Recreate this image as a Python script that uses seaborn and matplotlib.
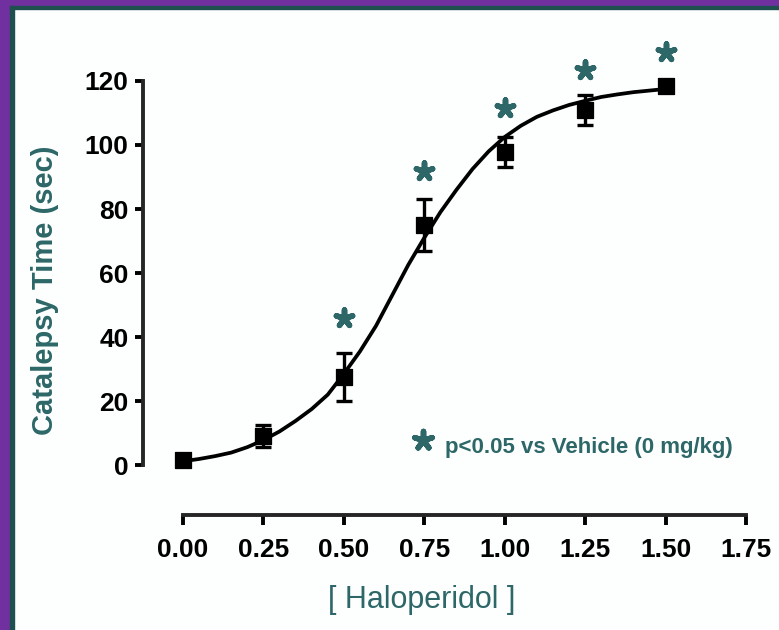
import matplotlib
matplotlib.use("Agg")
import matplotlib.pyplot as plt
from matplotlib.patches import Rectangle
import seaborn as sns
import pandas as pd

# dose-response data
dose = [0.00, 0.25, 0.50, 0.75, 1.00, 1.25, 1.50]
catalepsy = [1.5, 9.0, 27.5, 75.0, 97.8, 111.0, 118.5]
sem = [1.0, 3.5, 7.4, 8.0, 4.8, 4.6, 1.5]

# fitted sigmoid curve, every 0.05
curve_x = [0.00, 0.05, 0.10, 0.15, 0.20, 0.25, 0.30, 0.35, 0.40, 0.45,
           0.50, 0.55, 0.60, 0.65, 0.70, 0.75, 0.80, 0.85, 0.90, 0.95,
           1.00, 1.05, 1.10, 1.15, 1.20, 1.25, 1.30, 1.35, 1.40, 1.45, 1.50]
curve_y = [1.2, 1.9, 2.8, 3.9, 5.6, 7.8, 10.5, 13.8, 17.5, 22.0,
           28.5, 35.5, 43.5, 53.0, 62.5, 71.0, 79.0, 86.0, 92.5, 98.0,
           102.5, 106.0, 108.8, 110.8, 112.5, 113.8, 115.0, 115.8, 116.5, 117.0, 117.5]

# significance stars (p<0.05 vs vehicle)
star_x = [0.50, 0.75, 1.00, 1.25, 1.50]
star_y = [46.0, 92.0, 111.5, 123.5, 129.0]

x_ticks = [0.00, 0.25, 0.50, 0.75, 1.00, 1.25, 1.50, 1.75]
y_ticks = [0, 20, 40, 60, 80, 100, 120]

teal = "#2D6767"
purple = "#7030A0"

sns.set_style("ticks")
plt.rcParams["font.family"] = ["Liberation Sans", "DejaVu Sans"]

df = pd.DataFrame({"dose": dose, "catalepsy": catalepsy, "sem": sem})
fit = pd.DataFrame({"x": curve_x, "y": curve_y})
stars = pd.DataFrame({"x": star_x, "y": star_y})

fig = plt.figure(figsize=(7.79, 6.30), dpi=100, facecolor="#FDFFFF")
ax = fig.add_axes([143 / 779, 1 - 515 / 630, (746 - 143) / 779, (515 - 40) / 630])
ax.set_facecolor("none")

sns.lineplot(data=fit, x="x", y="y", ax=ax, color="black", linewidth=2.7)
ax.errorbar(df["dose"], df["catalepsy"], yerr=df["sem"], fmt="none",
            ecolor="black", elinewidth=2.4, capsize=5.5, capthick=2.4, zorder=3)
sns.scatterplot(data=df, x="dose", y="catalepsy", ax=ax, marker="s", s=130,
                color="black", edgecolor="black", zorder=4)
sns.scatterplot(data=stars, x="x", y="y", ax=ax, marker=(5, 2, 0), s=150,
                color=teal, edgecolor=teal, linewidth=4, zorder=4)

# key for the stars
ax.scatter([0.746], [7.8], marker=(5, 2, 0), s=170, color=teal, linewidths=4)
ax.text(0.814, 5.6, "p<0.05 vs Vehicle (0 mg/kg)", color=teal, fontsize=16,
        fontweight="bold", va="center", ha="left")

ax.set_xlim(-0.1243, 1.75)
ax.set_ylim(-15.6, 132.8)
ax.set_xticks(x_ticks)
ax.set_xticklabels([f"{t:.2f}" for t in x_ticks])
ax.set_yticks(y_ticks)

for side in ["top", "right"]:
    ax.spines[side].set_visible(False)
ax.spines["left"].set_bounds(0, 120)
ax.spines["bottom"].set_bounds(0, 1.75)
ax.spines["left"].set_linewidth(2.8)
ax.spines["bottom"].set_linewidth(2.8)

ax.tick_params(axis="x", direction="out", length=7.5, width=2.8, pad=9,
               labelsize=19, colors="black")
ax.tick_params(axis="y", direction="out", length=5.5, width=2.8, pad=5,
               labelsize=19, colors="black")
for lab in ax.get_xticklabels() + ax.get_yticklabels():
    lab.set_fontweight("bold")

ax.set_xlabel("[ Haloperidol ]", fontsize=22, color=teal)
ax.xaxis.label.set_va("center")
ax.xaxis.set_label_coords((422 - 143) / 603, (515 - 600) / 475)
ax.set_ylabel("Catalepsy Time (sec)", fontsize=21, fontweight="bold", color=teal)
ax.yaxis.label.set_va("center")
ax.yaxis.set_label_coords((45 - 143) / 603, (515 - 290) / 475)

# purple frame on top and left edges
fig.add_artist(Rectangle((0, 1 - 6 / 630), 1, 6 / 630, transform=fig.transFigure,
                         color=purple, zorder=10))
fig.add_artist(Rectangle((0, 0), 10 / 779, 1, transform=fig.transFigure,
                         color=purple, zorder=10))
fig.add_artist(Rectangle((10 / 779, 1 - 9 / 630), 1, 3 / 630, transform=fig.transFigure,
                         color="#1E5050", zorder=10))
fig.add_artist(Rectangle((10 / 779, 0), 4 / 779, 1 - 6 / 630, transform=fig.transFigure,
                         color="#1E5050", zorder=10))

fig.savefig("out.png", dpi=100, facecolor=fig.get_facecolor())
